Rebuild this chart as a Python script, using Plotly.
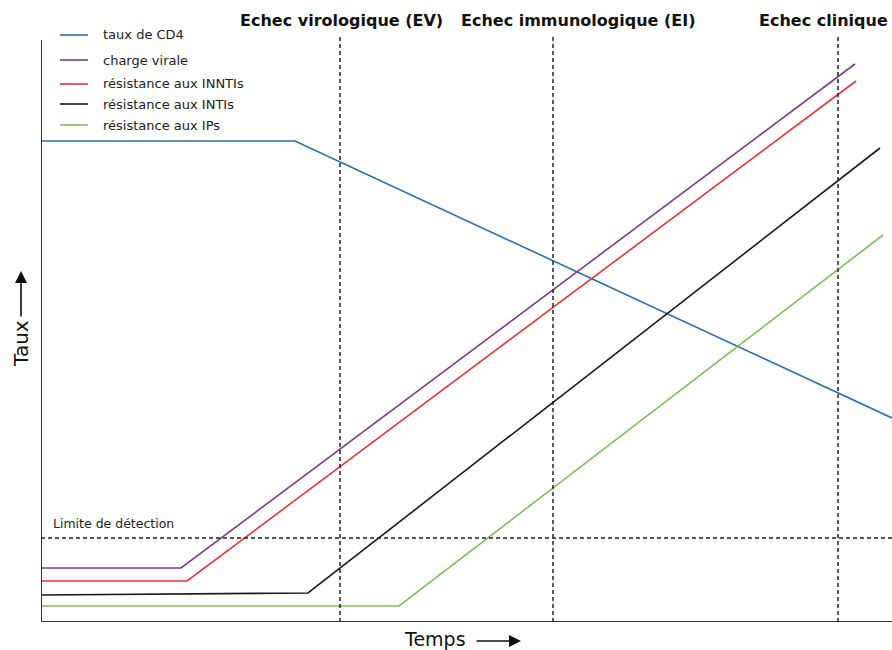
import plotly.graph_objects as go

# Data (x: time units, y: rate units; origin at the bottom-left of the axes)
series_names = ["taux de CD4", "charge virale", "résistance aux INNTIs",
                "résistance aux INTIs", "résistance aux IPs"]
series_colors = ["#2a6fb0", "#7e3a8e", "#e8333a", "#1a1a1a", "#7dbf5a"]
cd4_x = [0, 254, 851]
cd4_y = [481, 481, 204]
cv_x = [0, 140, 814]
cv_y = [54, 54, 558]
innti_x = [0, 146, 815]
innti_y = [41, 41, 541]
inti_x = [0, 267, 839]
inti_y = [27, 29, 474]
ip_x = [0, 358, 842]
ip_y = [16, 16, 387]

event_labels = ["Echec virologique (EV)", "Echec immunologique (EI)", "Echec clinique"]
event_x = [299, 512, 797]
detection_limit = 84
detection_label = "Limite de détection"

xs = [cd4_x, cv_x, innti_x, inti_x, ip_x]
ys = [cd4_y, cv_y, innti_y, inti_y, ip_y]

X_MAX = 851
Y_MAX = 622
FONT = "DejaVu Sans"


def px(x_page):
    return (x_page - 41) / X_MAX


def py(y_page):
    return (622 - y_page) / Y_MAX


fig = go.Figure()
for name, color, x, y in zip(series_names, series_colors, xs, ys):
    fig.add_trace(go.Scatter(x=x, y=y, mode="lines", name=name, showlegend=False,
                             line=dict(color=color, width=1.6)))

shapes = []
annotations = []
# axes lines
shapes.append(dict(type="line", xref="x", yref="y", x0=0, x1=0, y0=0, y1=582,
                   line=dict(color="#333", width=2)))
shapes.append(dict(type="line", xref="x", yref="y", x0=0, x1=X_MAX, y0=0, y1=0,
                   line=dict(color="#333", width=2)))
# event dashed verticals and labels (label placement: center, center, right-aligned)
label_pos = [(px(341), "center"), (px(578), "center"), (px(890), "right")]
for ex, (lx, anchor), lab in zip(event_x, label_pos, event_labels):
    shapes.append(dict(type="line", xref="x", yref="y", x0=ex, x1=ex, y0=0, y1=585,
                       line=dict(color="#222", width=1.5, dash="4px,3px")))
    annotations.append(dict(x=lx, y=py(21), xref="paper", yref="paper", text="<b>%s</b>" % lab,
                            showarrow=False, font=dict(family=FONT, size=16, color="#111"),
                            xanchor=anchor, yanchor="middle"))
# detection limit
shapes.append(dict(type="line", xref="x", yref="y", x0=0, x1=X_MAX, y0=detection_limit,
                   y1=detection_limit, line=dict(color="#222", width=1.5, dash="4px,3px")))
annotations.append(dict(x=10, y=detection_limit + 15, xref="x", yref="y", text=detection_label,
                        showarrow=False, font=dict(family=FONT, size=12.5, color="#222"),
                        xanchor="left", yanchor="middle"))

# manual legend
legend_y = [35, 60, 84, 104, 125]
for name, color, ly in zip(series_names, series_colors, legend_y):
    shapes.append(dict(type="line", xref="paper", yref="paper",
                       x0=px(60), x1=px(88), y0=py(ly), y1=py(ly),
                       line=dict(color=color, width=1.6)))
    annotations.append(dict(x=px(101), y=py(ly), xref="paper", yref="paper",
                            text=name, showarrow=False, xanchor="left", yanchor="middle",
                            font=dict(family=FONT, size=13, color="#222")))

# axis titles with arrows
annotations.append(dict(x=px(435), y=py(639), xref="paper", yref="paper",
                        text="Temps", showarrow=False, xanchor="center", yanchor="middle",
                        font=dict(family=FONT, size=19, color="#111")))
annotations.append(dict(x=px(521), y=py(641), ax=-46, ay=0,
                        xref="paper", yref="paper", axref="pixel", ayref="pixel", text="",
                        showarrow=True, arrowhead=2, arrowsize=1.5, arrowwidth=1.6, arrowcolor="#111"))
annotations.append(dict(x=px(21), y=py(344), xref="paper", yref="paper",
                        text="Taux", textangle=-90, showarrow=False, xanchor="center", yanchor="middle",
                        font=dict(family=FONT, size=20, color="#111")))
annotations.append(dict(x=px(21), y=py(271), ax=0, ay=47,
                        xref="paper", yref="paper", axref="pixel", ayref="pixel", text="",
                        showarrow=True, arrowhead=2, arrowsize=1.5, arrowwidth=1.6, arrowcolor="#111"))

fig.update_layout(
    width=892, height=650,
    margin=dict(l=41, r=0, t=0, b=28),
    paper_bgcolor="white", plot_bgcolor="white",
    xaxis=dict(range=[0, X_MAX], visible=False, fixedrange=True),
    yaxis=dict(range=[0, Y_MAX], visible=False, fixedrange=True),
    shapes=shapes, annotations=annotations, showlegend=False,
)
fig.write_html("out.html", config={"displayModeBar": False},
               post_script="document.body.style.margin='0';document.body.style.overflow='hidden';")
